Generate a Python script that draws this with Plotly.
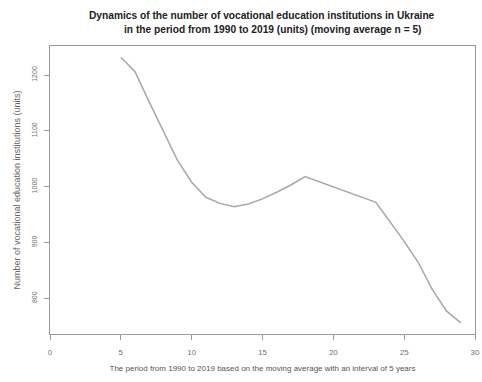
import plotly.graph_objects as go

# Moving average (n = 5) of the number of vocational education institutions
period_index = list(range(5, 30))
institutions_ma = [1232, 1206, 1152, 1098, 1047, 1008, 981, 970, 964, 969,
                   978, 990, 1003, 1018, 1009, 1000, 991, 982, 972, 937,
                   902, 864, 815, 777, 756]

x_ticks = [0, 5, 10, 15, 20, 25, 30]
y_ticks = [800, 900, 1000, 1100, 1200]

title_line1 = "Dynamics of the number of vocational education institutions in Ukraine"
title_line2 = "in the period from 1990 to 2019 (units) (moving average n = 5)"
x_title = "The period from 1990 to 2019 based on the moving average with an interval of 5 years"
y_title = "Number of vocational education institutions (units)"

font_family = "Liberation Sans, Arial, sans-serif"
axis_grey = "#9a9a9a"
text_grey = "#707070"

fig = go.Figure()
fig.add_trace(go.Scatter(
    x=period_index, y=institutions_ma, mode="lines",
    line=dict(color="#a8a8a8", width=1.5),
    hoverinfo="x+y", showlegend=False,
))

axis_common = dict(
    showgrid=False, zeroline=False, showline=True, linecolor=axis_grey,
    linewidth=1.2, mirror=True, ticks="outside", ticklen=5, tickwidth=1,
    tickcolor=axis_grey, ticklabeloverflow="allow",
)

fig.update_layout(
    width=482, height=382,
    margin=dict(l=50, r=2, t=46, b=48),
    paper_bgcolor="white", plot_bgcolor="white",
    font=dict(family=font_family),
    xaxis=dict(range=[0, 30], tickvals=x_ticks, ticklabelstandoff=5,
               tickfont=dict(family=font_family, size=8, color=text_grey),
               title=dict(text=x_title, font=dict(size=8, color="#555555"), standoff=9),
               **axis_common),
    yaxis=dict(range=[736, 1252], tickvals=y_ticks, tickangle=-90,
               ticklabelstandoff=4,
               tickfont=dict(family=font_family, size=7, color=text_grey),
               title=dict(text=y_title, font=dict(size=9, color="#666666"), standoff=8),
               **axis_common),
    annotations=[
        dict(text="<b>" + title_line1 + "</b>", x=264, y=15, xref="paper", yref="paper",
             showarrow=False),
        dict(text="<b>" + title_line2 + "</b>", x=276, y=29, xref="paper", yref="paper",
             showarrow=False),
    ],
)

# Title annotations placed in pixel terms relative to the plot area
plot_left, plot_w = 50, 430
plot_top, plot_h = 46, 288
for ann in fig.layout.annotations:
    px, py = ann.x, ann.y
    ann.update(x=(px - plot_left) / plot_w, y=1 + (plot_top - py) / plot_h,
               xanchor="center", yanchor="middle",
               font=dict(family=font_family, size=10.2, color="#222222"))

fig.write_html("out.html")
